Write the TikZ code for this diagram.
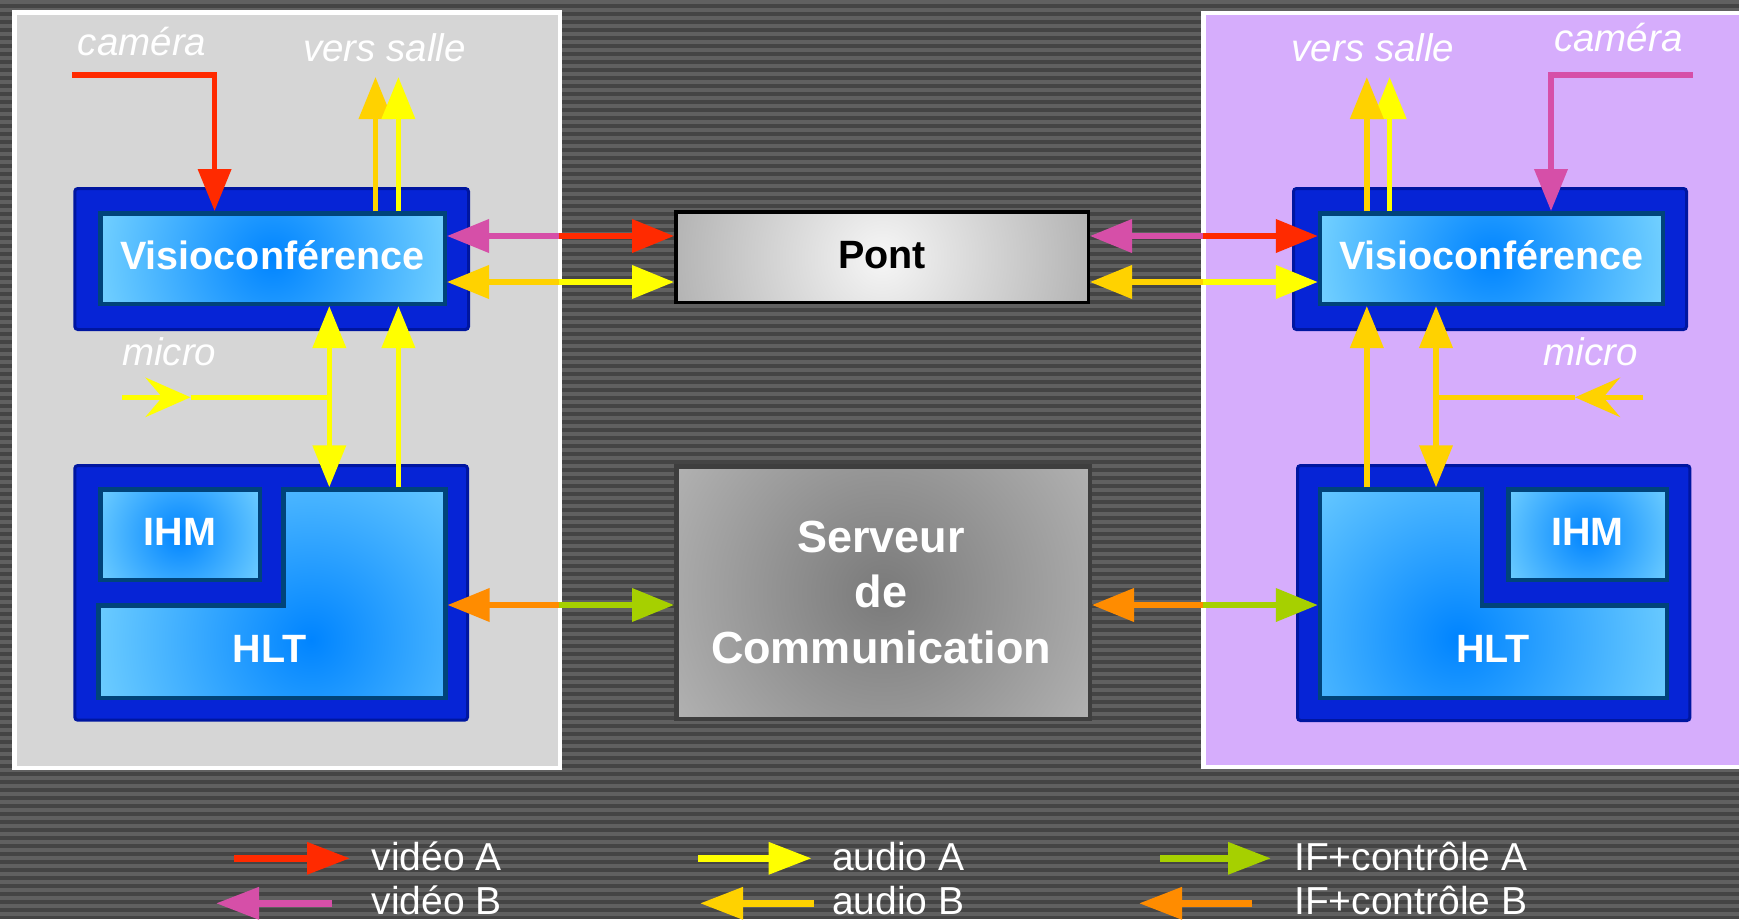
\documentclass[tikz,border=0pt]{standalone}
\usepackage{fontspec}
\setmainfont{Liberation Sans}
\usetikzlibrary{arrows.meta,calc}

\definecolor{vidA}{HTML}{FF2A00}
\definecolor{vidB}{HTML}{D64FA8}
\definecolor{audA}{HTML}{FFFF00}
\definecolor{audB}{HTML}{FFD200}
\definecolor{ifA}{HTML}{A6D000}
\definecolor{ifB}{HTML}{FF8C00}
\definecolor{panelGrey}{HTML}{D6D6D6}
\definecolor{panelLilac}{HTML}{D6ADFC}
\definecolor{boxBlue}{HTML}{0624D6}
\definecolor{boxBlueEdge}{HTML}{0016A0}
\definecolor{innerEdge}{HTML}{00437A}
\definecolor{skyLight}{HTML}{72D0FF}
\definecolor{skyDeep}{HTML}{0084FF}
\definecolor{stripeDark}{HTML}{444444}
\definecolor{stripeLight}{HTML}{606060}
\definecolor{pontLight}{HTML}{F6F6F6}
\definecolor{pontEdge}{HTML}{B2B2B2}
\definecolor{srvDeep}{HTML}{7A7A7A}
\definecolor{srvLight}{HTML}{B4B4B4}
\definecolor{srvEdge}{HTML}{3E3E3E}

\newcommand{\boxlabelfont}{\fontsize{39.5}{46}\selectfont\bfseries}
\newcommand{\sidelabelfont}{\fontsize{38.5}{46}\selectfont\itshape}
\newcommand{\legendfont}{\fontsize{39}{46}\selectfont}

\tikzset{
  tri/.tip={Triangle[length=42pt,width=32.5pt]},
  ltri/.tip={Triangle[length=43pt,width=31pt]},
  mtri/.tip={Stealth[length=45pt,width=39.4pt,inset=16.7pt]},
  conn/.style={line width=5.5pt},
  legline/.style={line width=6.5pt},
  panel/.style={draw=white, line width=4.5pt},
  frame/.style={draw=boxBlueEdge, fill=boxBlue, line width=3pt,
    rounded corners=3pt, inner sep=0pt},
  skybox/.style={draw=innerEdge, line width=4.5pt, fill=skyLight,
    inner sep=0pt, text=white, font=\boxlabelfont,
    text height=21.6pt, text depth=0pt,
    path picture={\shade[inner color=skyDeep, outer color=skyLight]
      (path picture bounding box.center) circle (#1);}},
  pontbox/.style={draw=black, line width=3.5pt, fill=pontEdge,
    inner sep=0pt, text=black, font=\boxlabelfont,
    text height=22pt, text depth=0pt,
    path picture={\shade[inner color=pontLight, outer color=pontEdge]
      (path picture bounding box.center) circle (215);}},
  srvbox/.style={draw=srvEdge, line width=4.5pt, fill=srvLight,
    inner sep=0pt,
    path picture={\shade[inner color=srvDeep, outer color=srvLight]
      (path picture bounding box.center) circle (255);}},
  area/.style={inner sep=0pt, outer sep=0pt},
  sidelabel/.style={text=white, font=\sidelabelfont, inner sep=0pt, anchor=base west},
  legtext/.style={text=white, font=\legendfont, inner sep=0pt, anchor=base west},
  hlttext/.style={text=white, font=\boxlabelfont, inner sep=0pt, anchor=base},
}

\begin{document}
\begin{tikzpicture}[x=1pt, y=-1pt]
\useasboundingbox (0,0) rectangle (1739,919);
\clip (0,0) rectangle (1739,919);

% striped backdrop
\fill[stripeDark] (0,0) rectangle (1739,919);
\foreach \k in {0,...,115} {
  \fill[stripeLight] (0,{8*\k}) rectangle (1739,{8*\k+4});
}

% the two rooms
\draw[panel, fill=panelGrey] (14.25,12.25) rectangle (559.75,767.75);
\draw[panel, fill=panelLilac] (1203.25,12.75) rectangle (1760,767);

% blue frames
\node[frame, minimum width=393.7pt, minimum height=141pt] (vlFrame) at (271.65,259) {};
\node[frame, minimum width=392.7pt, minimum height=254.7pt] (hlFrame) at (271.15,592.85) {};
\node[frame, minimum width=393pt, minimum height=141pt] (vrFrame) at (1490,259) {};
\node[frame, minimum width=392.4pt, minimum height=255pt] (hrFrame) at (1493.7,593) {};

% videoconference units
\node[skybox=178, minimum width=344.5pt, minimum height=90.5pt] (vl) at (272.5,258.5) {Visioconférence};
\node[skybox=176, minimum width=342.7pt, minimum height=90.5pt] (vr) at (1491.4,258.5) {Visioconférence};

% IHM boxes
\node[skybox=95, minimum width=159.5pt, minimum height=90.5pt] (ihmL) at (180,534.8) {IHM};
\node[skybox=95, minimum width=158.5pt, minimum height=90.5pt] (ihmR) at (1587.5,534.8) {IHM};

% HLT areas (L-shaped)
\node[area, minimum width=351.4pt, minimum height=212.7pt] (hltL) at (271.9,593.65) {};
\node[area, minimum width=351.2pt, minimum height=212.7pt] (hltR) at (1493.4,593.65) {};

\fill[skyLight] (283.25,489.55) -- (445.35,489.55) -- (445.35,697.75)
  -- (98.45,697.75) -- (98.45,605.55) -- (283.25,605.55) -- cycle;
\begin{scope}
  \clip (283.25,489.55) -- (445.35,489.55) -- (445.35,697.75)
    -- (98.45,697.75) -- (98.45,605.55) -- (283.25,605.55) -- cycle;
  \shade[inner color=skyDeep, outer color=skyLight] (311,640) circle (230);
\end{scope}
\draw[innerEdge, line width=4.5pt] (283.25,489.55) -- (445.35,489.55) -- (445.35,697.75)
  -- (98.45,697.75) -- (98.45,605.55) -- (283.25,605.55) -- cycle;

\fill[skyLight] (1320.05,489.55) -- (1481.75,489.55) -- (1481.75,605.55)
  -- (1666.75,605.55) -- (1666.75,697.75) -- (1320.05,697.75) -- cycle;
\begin{scope}
  \clip (1320.05,489.55) -- (1481.75,489.55) -- (1481.75,605.55)
    -- (1666.75,605.55) -- (1666.75,697.75) -- (1320.05,697.75) -- cycle;
  \shade[inner color=skyDeep, outer color=skyLight] (1458,638) circle (230);
\end{scope}
\draw[innerEdge, line width=4.5pt] (1320.05,489.55) -- (1481.75,489.55) -- (1481.75,605.55)
  -- (1666.75,605.55) -- (1666.75,697.75) -- (1320.05,697.75) -- cycle;

\node[hlttext] (hltLtext) at (269.7,662.3) {HLT};
\node[hlttext] (hltRtext) at (1493,662.3) {HLT};

% central services
\node[pontbox, minimum width=412.5pt, minimum height=90.5pt] (pont) at (882,257) {Pont};
\node[srvbox, minimum width=413.5pt, minimum height=252.5pt] (srv) at (883,592.5) {};
% base of a multi-line node = baseline of its last line
\node[text=white, font=\fontsize{45}{55.5}\selectfont\bfseries, align=center,
  inner sep=0pt, anchor=base] (srvtext) at (881,663) {Serveur\\de\\Communication};

% side labels
\node[sidelabel] (camLtext) at (77.7,55) {caméra};
\node[sidelabel] (salLtext) at (303,61.7) {vers salle};
\node[sidelabel] (micLtext) at (122,365) {micro};
\node[sidelabel] (salRtext) at (1291.5,61.7) {vers salle};
\node[sidelabel] (camRtext) at (1554,51.7) {caméra};
\node[sidelabel] (micRtext) at (1543.6,365) {micro};

% helper coordinates
\coordinate (rowV) at (0,236);
\coordinate (rowA) at (0,282);
\coordinate (rowI) at (0,605);
\coordinate (edgeL) at (559,0);
\coordinate (edgeR) at (1203,0);

% cameras
\coordinate (camL) at (72,75);
\coordinate (camLc) at (214.6,75);
\draw[conn, vidA, -tri] (camL) -- (camLc) -- (camLc |- vl.north);
\coordinate (camR) at (1692.5,75);
\coordinate (camRc) at (1551,75);
\draw[conn, vidB, -tri] (camR) -- (camRc) -- (camRc |- vr.north);

% outputs to the room
\coordinate (salL1) at (375.5,77);
\coordinate (salL2) at (398.4,77);
\draw[conn, audB, -tri] (salL1 |- vl.north) -- (salL1);
\draw[conn, audA, -tri] (salL2 |- vl.north) -- (salL2);
\coordinate (salR1) at (1366.8,77);
\coordinate (salR2) at (1389.6,77);
\draw[conn, audA, -tri] (salR2 |- vr.north) -- (salR2);
\draw[conn, audB, -tri] (salR1 |- vr.north) -- (salR1);

% microphones
\coordinate (dblL) at (329.3,0);
\coordinate (upL) at (398.4,0);
\coordinate (micL) at (122,397.3);
\coordinate (micLh) at (190.5,397.3);
\draw[conn, audA] (micLh) -- (micLh -| dblL);
\draw[conn, audA, -mtri] (micL) -- (micLh);
\draw[conn, audA, tri-tri] (dblL |- vl.south) -- (dblL |- hltL.north);
\draw[conn, audA, -tri] (upL |- hltL.north) -- (upL |- vl.south);

\coordinate (dblR) at (1436,0);
\coordinate (upR) at (1366.8,0);
\coordinate (micR) at (1643.4,397.3);
\coordinate (micRh) at (1575,397.3);
\draw[conn, audB] (micRh) -- (micRh -| dblR);
\draw[conn, audB, -mtri] (micR) -- (micRh);
\draw[conn, audB, tri-tri] (dblR |- vr.south) -- (dblR |- hltR.north);
\draw[conn, audB, -tri] (upR |- hltR.north) -- (upR |- vr.south);

% links through the bridge
\draw[conn, vidB, -tri] (edgeL |- rowV) -- (vl.east |- rowV);
\draw[conn, vidA, -tri] (edgeL |- rowV) -- (pont.west |- rowV);
\draw[conn, audB, -tri] (edgeL |- rowA) -- (vl.east |- rowA);
\draw[conn, audA, -tri] (edgeL |- rowA) -- (pont.west |- rowA);
\draw[conn, vidB, -tri] (edgeR |- rowV) -- (pont.east |- rowV);
\draw[conn, vidA, -tri] (edgeR |- rowV) -- (vr.west |- rowV);
\draw[conn, audB, -tri] (edgeR |- rowA) -- (pont.east |- rowA);
\draw[conn, audA, -tri] (edgeR |- rowA) -- (vr.west |- rowA);

% links through the communication server
\draw[conn, ifB, -tri] (edgeL |- rowI) -- (hltL.east |- rowI);
\draw[conn, ifA, -tri] (edgeL |- rowI) -- (srv.west |- rowI);
\draw[conn, ifB, -tri] (edgeR |- rowI) -- (srv.east |- rowI);
\draw[conn, ifA, -tri] (edgeR |- rowI) -- (hltR.west |- rowI);

% legend
\coordinate (lgVa0) at (234,858.3);  \coordinate (lgVa1) at (350,858.3);
\coordinate (lgVb0) at (332,903.3);  \coordinate (lgVb1) at (216,903.3);
\coordinate (lgAa0) at (698,858.3);  \coordinate (lgAa1) at (811.6,858.3);
\coordinate (lgAb0) at (814,903.3);  \coordinate (lgAb1) at (700,903.3);
\coordinate (lgIa0) at (1160,858.3); \coordinate (lgIa1) at (1271,858.3);
\coordinate (lgIb0) at (1252,903.3); \coordinate (lgIb1) at (1139,903.3);
\draw[legline, vidA, -ltri] (lgVa0) -- (lgVa1);
\draw[legline, vidB, -ltri] (lgVb0) -- (lgVb1);
\draw[legline, audA, -ltri] (lgAa0) -- (lgAa1);
\draw[legline, audB, -ltri] (lgAb0) -- (lgAb1);
\draw[legline, ifA, -ltri] (lgIa0) -- (lgIa1);
\draw[legline, ifB, -ltri] (lgIb0) -- (lgIb1);
\node[legtext] (lgVaT) at (371.4,870) {vidéo A};
\node[legtext] (lgVbT) at (371.4,914) {vidéo B};
\node[legtext] (lgAaT) at (832,870) {audio A};
\node[legtext] (lgAbT) at (832,914) {audio B};
\node[legtext] (lgIaT) at (1294,870) {IF+contrôle A};
\node[legtext] (lgIbT) at (1294,914) {IF+contrôle B};
\end{tikzpicture}
\end{document}
